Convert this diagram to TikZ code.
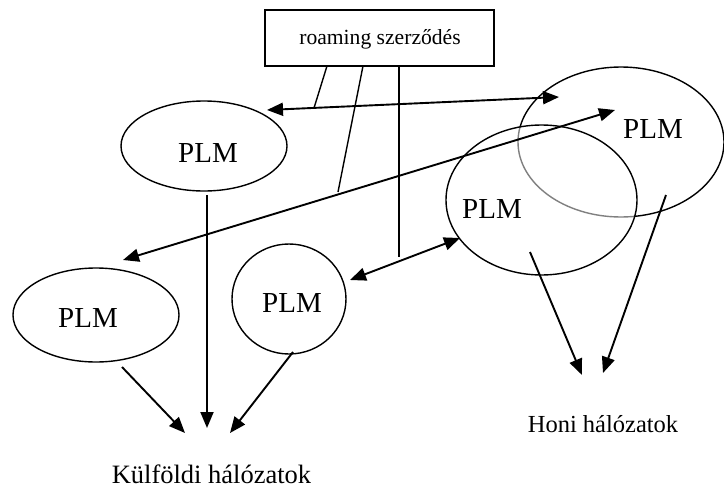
\documentclass[tikz,border=0pt]{standalone}
\usepackage{fontspec}
\setmainfont{Liberation Serif}
\usetikzlibrary{shapes.geometric,arrows.meta}
\begin{document}
\begin{tikzpicture}[x=1pt,y=-1pt,
  oval/.style={draw,ellipse,line width=1.4pt,inner sep=0pt,outer sep=0pt},
  plm/.style={font=\fontsize{29}{34}\selectfont,inner sep=0pt},
  caption/.style={inner sep=0pt,anchor=base},
  arr/.style={line width=1.9pt,-{Triangle[length=16pt,width=13pt]}},
  darr/.style={line width=1.9pt,{Triangle[length=16pt,width=13pt]}-{Triangle[length=16pt,width=13pt]}},
  tick/.style={line width=1.4pt}]
\useasboundingbox (0,0) rectangle (724,490);

% box
\node[draw,line width=1.4pt,minimum width=229pt,minimum height=56pt,inner sep=0pt] (box) at (379.5,38) {};
\node[caption,font=\fontsize{21.6}{26}\selectfont] (boxt) at (380,44) {roaming szerződés};

% ellipses
\node[oval,minimum width=166pt,minimum height=90pt] (e1) at (204,146) {};
\node[oval,minimum width=166pt,minimum height=94pt] (e2) at (96,315) {};
\node[oval,minimum width=114pt,minimum height=110pt] (e3) at (289,299) {};
\node[oval,minimum width=206pt,minimum height=150pt] (e4) at (621,142) {};
\begin{scope}
  \clip (541.5,200) ellipse [x radius=95.5pt, y radius=75pt];
  \draw[white,line width=3pt] (621,142) ellipse [x radius=103pt, y radius=75pt];
  \draw[gray,line width=1.4pt] (621,142) ellipse [x radius=103pt, y radius=75pt];
\end{scope}
\node[oval,minimum width=191pt,minimum height=150pt] (e5) at (541.5,200) {};

% labels
\node[plm] (p1) at (208,153) {PLM};
\node[plm] (p2) at (88,318) {PLM};
\node[plm] (p3) at (292,303) {PLM};
\node[plm] (p4) at (653,129) {PLM};
\node[plm] (p5) at (492,209) {PLM};
\node[caption,font=\fontsize{26.5}{31}\selectfont] (kulf) at (211.5,483) {Külföldi hálózatok};
\node[caption,font=\fontsize{24.5}{29}\selectfont] (honi) at (603,432) {Honi hálózatok};

% connector end points
\coordinate (a1l) at (267,110);
\coordinate (a1r) at (559,97);
\coordinate (a2l) at (123,260);
\coordinate (a2r) at (615,110);
\coordinate (a3l) at (350,280);
\coordinate (a3r) at (460,238);
\coordinate (t1a) at (327,66);
\coordinate (t1b) at (314,108);
\coordinate (t2a) at (363,66);
\coordinate (t2b) at (338,192);
\coordinate (t3a) at (399,66);
\coordinate (t3b) at (399,257);
\coordinate (k0) at (207,195);
\coordinate (k1) at (207,428);
\coordinate (k2a) at (122,367);
\coordinate (k2b) at (185,433);
\coordinate (k3a) at (293,352);
\coordinate (k3b) at (230,433);
\coordinate (h1a) at (530,252);
\coordinate (h1b) at (582,375);
\coordinate (h2a) at (666,195);
\coordinate (h2b) at (603,373);

% roaming ticks
\draw[tick] (t1a) -- (t1b);
\draw[tick] (t2a) -- (t2b);
\draw[tick] (t3a) -- (t3b);

% double arrows
\draw[darr] (a1l) -- (a1r);
\draw[darr] (a2l) -- (a2r);
\draw[darr] (a3l) -- (a3r);

% arrows to networks
\draw[arr] (k0) -- (k1);
\draw[arr] (k2a) -- (k2b);
\draw[arr] (k3a) -- (k3b);
\draw[arr] (h1a) -- (h1b);
\draw[arr] (h2a) -- (h2b);
\end{tikzpicture}
\end{document}
